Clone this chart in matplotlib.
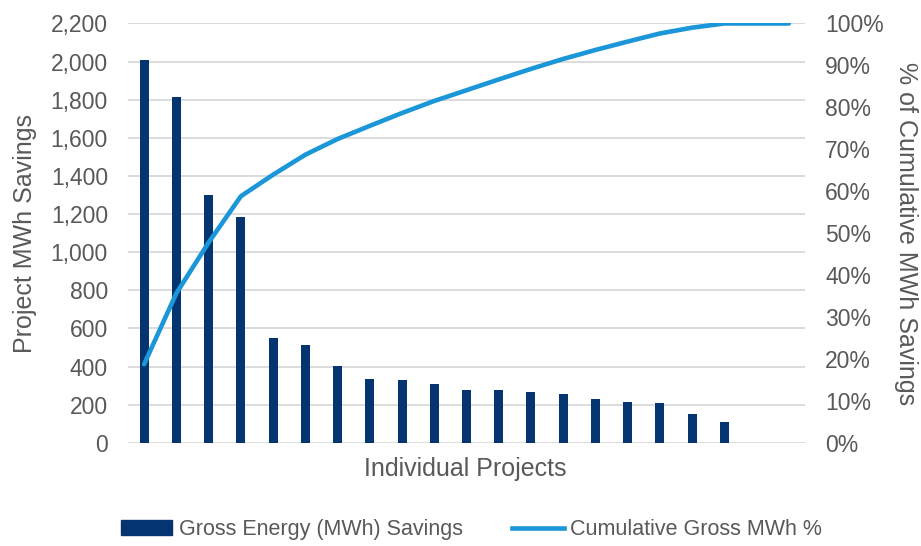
import numpy as np
import matplotlib.pyplot as plt
from matplotlib.ticker import FuncFormatter, MultipleLocator
from matplotlib.patches import Patch
from matplotlib.lines import Line2D

plt.rcParams['font.family'] = ['Liberation Sans', 'DejaVu Sans']

# project savings, MWh (last two slots have no project)
savings = [2010, 1815, 1298, 1183, 551, 511, 402, 336, 329, 308,
           275, 276, 269, 255, 229, 215, 207, 149, 107, 0, 0]
bar_label = "Gross Energy (MWh) Savings"
line_label = "Cumulative Gross MWh %"

bar_color = "#053571"
line_color = "#1b96d8"
text_color = "#595959"
grid_color = "#d9d9d9"
tick_fs = 16.5
title_fs = 18
legend_fs = 15.5

x = np.arange(len(savings))
cum_pct = np.cumsum(savings) / np.sum(savings)

fig = plt.figure(figsize=(9.21, 5.46), dpi=100)
ax = fig.add_axes([0.139, 0.189, 0.735, 0.768])
ax2 = ax.twinx()

ax.bar(x, savings, width=0.28, color=bar_color, zorder=2)
ax2.plot(x, cum_pct, color=line_color, lw=3.3, solid_capstyle="round", zorder=3)

ax.set_xlim(-0.5, len(savings) - 0.5)
ax.set_ylim(0, 2200)
ax2.set_ylim(0, 1.0)
ax.yaxis.set_major_locator(MultipleLocator(200))
ax2.yaxis.set_major_locator(MultipleLocator(0.1))
ax.yaxis.set_major_formatter(FuncFormatter(lambda v, p: f"{v:,.0f}"))
ax2.yaxis.set_major_formatter(FuncFormatter(lambda v, p: f"{v*100:.0f}%"))

ax.set_xticks([])
ax.grid(axis="y", color=grid_color, lw=1.3, zorder=0)
ax.set_axisbelow(True)
for a in (ax, ax2):
    for s in a.spines.values():
        s.set_visible(False)
    a.tick_params(axis="y", length=0, pad=14.5, labelsize=tick_fs, labelcolor=text_color)

ax.set_ylabel("Project MWh Savings", fontsize=title_fs, color=text_color, va="center")
ax.yaxis.set_label_coords(-0.152, 0.5)
ax2.set_ylabel("% of Cumulative MWh Savings", fontsize=title_fs, color=text_color,
               rotation=270, va="center")
ax2.yaxis.set_label_coords(1.149, 0.5)
ax.set_xlabel("Individual Projects", fontsize=title_fs, color=text_color, va="center")
ax.xaxis.set_label_coords(0.498, -0.062)

handles = [Patch(color=bar_color), Line2D([], [], color=line_color, lw=3.3)]
leg = fig.legend(handles, [bar_label, line_label], loc="center",
                 bbox_to_anchor=(0.512, 0.03), ncol=2, frameon=False,
                 fontsize=legend_fs, handlelength=2.4, handletextpad=0.3,
                 columnspacing=2.3)
for t in leg.get_texts():
    t.set_color(text_color)

fig.savefig("out.png", dpi=100)
